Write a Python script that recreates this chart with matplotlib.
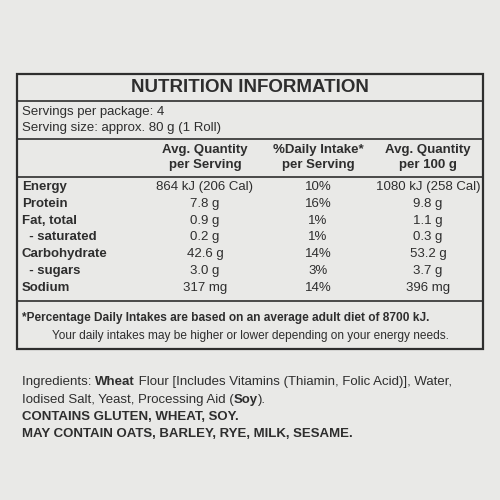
import matplotlib
matplotlib.use("Agg")
import matplotlib.pyplot as plt

title = "NUTRITION INFORMATION"
servings = ["Servings per package: 4", "Serving size: approx. 80 g (1 Roll)"]
col_heads = [("Avg. Quantity", "per Serving"), ("%Daily Intake*", "per Serving"), ("Avg. Quantity", "per 100 g")]
nutrients = ["Energy", "Protein", "Fat, total", "  - saturated", "Carbohydrate", "  - sugars", "Sodium"]
per_serving = ["864 kJ (206 Cal)", "7.8 g", "0.9 g", "0.2 g", "42.6 g", "3.0 g", "317 mg"]
daily_pct = ["10%", "16%", "1%", "1%", "14%", "3%", "14%"]
per_100g = ["1080 kJ (258 Cal)", "9.8 g", "1.1 g", "0.3 g", "53.2 g", "3.7 g", "396 mg"]
footnote = ["*Percentage Daily Intakes are based on an average adult diet of 8700 kJ.",
            "Your daily intakes may be higher or lower depending on your energy needs."]
ingredients = [
    [("Ingredients: ", False), ("Wheat", True), (" Flour [Includes Vitamins (Thiamin, Folic Acid)], Water,", False)],
    [("Iodised Salt, Yeast, Processing Aid (", False), ("Soy", True), (").", False)],
]
allergens = ["CONTAINS GLUTEN, WHEAT, SOY.", "MAY CONTAIN OATS, BARLEY, RYE, MILK, SESAME."]

plt.rcParams['font.family'] = ['Liberation Sans', 'DejaVu Sans']
ink = "#2e2e2e"
fig = plt.figure(figsize=(5, 5), dpi=100, facecolor="#e9e9e7")
ax = fig.add_axes([0, 0, 1, 1])
ax.set_xlim(0, 500); ax.set_ylim(500, 0); ax.axis("off")

ax.add_patch(plt.Rectangle((17, 74), 466, 275, fill=False, ec=ink, lw=1.6))
for y in [101, 139, 177, 301]:
    ax.plot([17, 483], [y, y], color=ink, lw=1.2)

ax.text(250, 88, title, ha="center", va="center", fontsize=13.5, weight="heavy", color=ink)
ax.text(22, 112, servings[0], ha="left", va="center", fontsize=9.5, color=ink)
ax.text(22, 128, servings[1], ha="left", va="center", fontsize=9.5, color=ink)

cx = [205, 318, 428]
for x, (a, b) in zip(cx, col_heads):
    ax.text(x, 150, a, ha="center", va="center", fontsize=9.5, weight="bold", color=ink)
    ax.text(x, 165, b, ha="center", va="center", fontsize=9.5, weight="bold", color=ink)

for i, n in enumerate(nutrients):
    y = 187 + i * 16.8
    ax.text(22, y, n, ha="left", va="center", fontsize=9.5, weight="bold", color=ink)
    ax.text(cx[0], y, per_serving[i], ha="center", va="center", fontsize=9.5, color=ink)
    ax.text(cx[1], y, daily_pct[i], ha="center", va="center", fontsize=9.5, color=ink)
    ax.text(cx[2], y, per_100g[i], ha="center", va="center", fontsize=9.5, color=ink)

ax.text(22, 318, footnote[0], ha="left", va="center", fontsize=8.6, weight="bold", color=ink)
ax.text(250, 336, footnote[1], ha="center", va="center", fontsize=8.6, color=ink)

fig.canvas.draw()
renderer = fig.canvas.get_renderer()
for row, y in zip(ingredients, [382, 400]):
    x = 22
    for seg, bold in row:
        t = ax.text(x, y, seg, ha="left", va="center", fontsize=9.5,
                    weight="bold" if bold else "normal", color=ink)
        bb = t.get_window_extent(renderer)
        x = x + bb.width  # 1 data unit == 1 pixel
for s, y in zip(allergens, [417, 434]):
    ax.text(22, y, s, ha="left", va="center", fontsize=9.5, weight="bold", color=ink)

fig.savefig("out.png", dpi=100, facecolor=fig.get_facecolor())
